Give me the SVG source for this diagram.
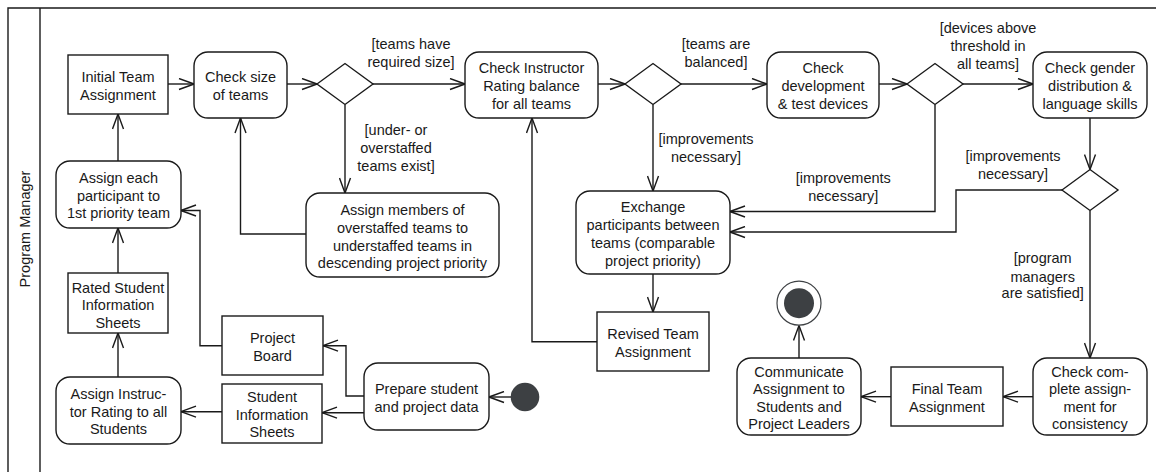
<svg xmlns="http://www.w3.org/2000/svg" width="1156" height="473" viewBox="0 0 1156 473">
  <style>
    .frame { fill: none; stroke: #1a1a1a; stroke-width: 1.4; }
    .act { fill: #ffffff; stroke: #1a1a1a; stroke-width: 1.4; }
    .obj { fill: #ffffff; stroke: #1a1a1a; stroke-width: 1.4; }
    .dec { fill: #ffffff; stroke: #1a1a1a; stroke-width: 1.4; }
    .edge { fill: none; stroke: #1a1a1a; stroke-width: 1.4; marker-end: url(#open); }
    text { font-family: "Liberation Sans", Arial, Helvetica, sans-serif; font-size: 14.5px; fill: #1a1a1a; text-anchor: middle; }
    .dot { fill: #3d4043; }
  </style>
  <defs>
    <marker id="open" markerUnits="userSpaceOnUse" markerWidth="17" markerHeight="13" viewBox="0 0 17 13" refX="16" refY="6.5" orient="auto">
      <path d="M1,1 L16,6.5 L1,12" fill="none" stroke="#1a1a1a" stroke-width="1.4"/>
    </marker>
  </defs>

  <!-- swimlane -->
  <g id="lane">
    <path class="frame" d="M8,472 V8 H1156 M40,8 V472"/>
    <text transform="translate(30,229) rotate(-90)">Program Manager</text>
  </g>

  <!-- connectors -->
  <g id="connectors">
    <path class="edge" d="M168,84 H194"/>
    <path class="edge" d="M287,84 H317"/>
    <path class="edge" d="M373,84 H465"/>
    <path class="edge" d="M345,104.5 V193"/>
    <path class="edge" d="M306,234 H240.5 V118"/>
    <path class="edge" d="M598,84 H625"/>
    <path class="edge" d="M681,84 H767"/>
    <path class="edge" d="M653,104.5 V191"/>
    <path class="edge" d="M879,84 H907"/>
    <path class="edge" d="M963,84 H1033"/>
    <path class="edge" d="M935,104.5 V211.5 H730"/>
    <path class="edge" d="M1090,118 V169.5"/>
    <path class="edge" d="M1062,190 H956 V232 H730"/>
    <path class="edge" d="M1090,210.5 V358"/>
    <path class="edge" d="M653,274 V312"/>
    <path class="edge" d="M597,341.7 H532 V118"/>
    <path class="edge" d="M1033,396.7 H1003"/>
    <path class="edge" d="M891,396.7 H861"/>
    <path class="edge" d="M799,358 V325.5"/>
    <path class="edge" d="M511,397 H489"/>
    <path class="edge" d="M364,396 H346 V345.7 H323"/>
    <path class="edge" d="M364,412.7 H322"/>
    <path class="edge" d="M222,411.7 H181"/>
    <path class="edge" d="M118,377 V333"/>
    <path class="edge" d="M118,273 V228"/>
    <path class="edge" d="M118,161 V114"/>
    <path class="edge" d="M222,345.7 H200 V210.5 H181"/>
    <!-- guard labels -->
    <text x="411" y="49">[teams have</text>
    <text x="411" y="67">required size]</text>
    <text x="396" y="135">[under- or</text>
    <text x="396" y="153">overstaffed</text>
    <text x="396" y="170.5">teams exist]</text>
    <text x="716" y="49">[teams are</text>
    <text x="716" y="67">balanced]</text>
    <text x="706" y="143.7">[improvements</text>
    <text x="706" y="161.7">necessary]</text>
    <text x="988" y="33.3">[devices above</text>
    <text x="988" y="51">threshold in</text>
    <text x="988" y="69">all teams]</text>
    <text x="843.3" y="183.3">[improvements</text>
    <text x="843.3" y="200.5">necessary]</text>
    <text x="1013" y="161">[improvements</text>
    <text x="1013" y="179.3">necessary]</text>
    <text x="1042.7" y="263.3">[program</text>
    <text x="1042.7" y="281.7">managers</text>
    <text x="1042.7" y="298.3">are satisfied]</text>
  </g>

  <!-- nodes -->
  <g id="initial-team-assignment">
    <rect class="obj" x="68" y="55" width="100" height="59"/>
    <text x="118" y="82">Initial Team</text>
    <text x="118" y="100">Assignment</text>
  </g>
  <g id="check-size">
    <rect class="act" x="194" y="52" width="93" height="66" rx="14"/>
    <text x="240.5" y="82">Check size</text>
    <text x="240.5" y="100">of teams</text>
  </g>
  <g id="decision-size">
    <polygon class="dec" points="317,84 345,63.5 373,84 345,104.5"/>
  </g>
  <g id="check-rating">
    <rect class="act" x="465" y="52" width="133" height="66" rx="14"/>
    <text x="531.5" y="73">Check Instructor</text>
    <text x="531.5" y="91">Rating balance</text>
    <text x="531.5" y="109">for all teams</text>
  </g>
  <g id="decision-rating">
    <polygon class="dec" points="625,84 653,63.5 681,84 653,104.5"/>
  </g>
  <g id="check-devices">
    <rect class="act" x="767" y="52" width="112" height="66" rx="14"/>
    <text x="823" y="73">Check</text>
    <text x="823" y="91">development</text>
    <text x="823" y="109">&amp; test devices</text>
  </g>
  <g id="decision-devices">
    <polygon class="dec" points="907,84 935,63.5 963,84 935,104.5"/>
  </g>
  <g id="check-gender">
    <rect class="act" x="1033" y="52" width="114" height="66" rx="14"/>
    <text x="1090" y="73">Check gender</text>
    <text x="1090" y="91">distribution &amp;</text>
    <text x="1090" y="109">language skills</text>
  </g>
  <g id="decision-gender">
    <polygon class="dec" points="1062,190 1090,169.5 1118,190 1090,210.5"/>
  </g>
  <g id="assign-members">
    <rect class="act" x="306" y="193" width="193" height="84" rx="14"/>
    <text x="402.5" y="215">Assign members of</text>
    <text x="402.5" y="233">overstaffed teams to</text>
    <text x="402.5" y="250.5">understaffed teams in</text>
    <text x="402.5" y="268">descending project priority</text>
  </g>
  <g id="exchange-participants">
    <rect class="act" x="576" y="191" width="154" height="83" rx="14"/>
    <text x="653" y="211.7">Exchange</text>
    <text x="653" y="230">participants between</text>
    <text x="653" y="248">teams (comparable</text>
    <text x="653" y="266">project priority)</text>
  </g>
  <g id="revised-team-assignment">
    <rect class="obj" x="597" y="312" width="112" height="59"/>
    <text x="653" y="339">Revised Team</text>
    <text x="653" y="357">Assignment</text>
  </g>
  <g id="check-complete">
    <rect class="act" x="1033" y="358" width="114" height="77" rx="14"/>
    <text x="1090" y="376.7">Check com-</text>
    <text x="1090" y="394.3">plete assign-</text>
    <text x="1090" y="411.7">ment for</text>
    <text x="1090" y="429">consistency</text>
  </g>
  <g id="final-team-assignment">
    <rect class="obj" x="891" y="367" width="112" height="59"/>
    <text x="947" y="394.3">Final Team</text>
    <text x="947" y="411.7">Assignment</text>
  </g>
  <g id="communicate">
    <rect class="act" x="737" y="358" width="124" height="77" rx="14"/>
    <text x="799" y="376.7">Communicate</text>
    <text x="799" y="394.3">Assignment to</text>
    <text x="799" y="411.7">Students and</text>
    <text x="799" y="429">Project Leaders</text>
  </g>
  <g id="final-node">
    <circle cx="799" cy="303.2" r="22" fill="#ffffff" stroke="#3d4043" stroke-width="1.2"/>
    <circle class="dot" cx="799" cy="303.2" r="15"/>
  </g>
  <g id="prepare-data">
    <rect class="act" x="364" y="363" width="125" height="67" rx="14"/>
    <text x="426.5" y="394.3">Prepare student</text>
    <text x="426.5" y="411.7">and project data</text>
  </g>
  <g id="initial-node">
    <circle class="dot" cx="525" cy="397" r="14.3"/>
  </g>
  <g id="project-board">
    <rect class="obj" x="222" y="316" width="101" height="59"/>
    <text x="272.5" y="343.3">Project</text>
    <text x="272.5" y="360.7">Board</text>
  </g>
  <g id="student-information-sheets">
    <rect class="obj" x="222" y="384" width="100" height="59"/>
    <text x="272" y="401.7">Student</text>
    <text x="272" y="420">Information</text>
    <text x="272" y="437.3">Sheets</text>
  </g>
  <g id="assign-rating">
    <rect class="act" x="56" y="377" width="125" height="67" rx="14"/>
    <text x="118.5" y="399">Assign Instruc-</text>
    <text x="118.5" y="416.7">tor Rating to all</text>
    <text x="118.5" y="434.3">Students</text>
  </g>
  <g id="rated-student-information-sheets">
    <rect class="obj" x="68" y="273" width="100" height="60"/>
    <text x="118" y="292.5">Rated Student</text>
    <text x="118" y="310.3">Information</text>
    <text x="118" y="328">Sheets</text>
  </g>
  <g id="assign-priority-team">
    <rect class="act" x="56" y="161" width="125" height="67" rx="14"/>
    <text x="118.5" y="183.3">Assign each</text>
    <text x="118.5" y="201">participant to</text>
    <text x="118.5" y="218.3">1st priority team</text>
  </g>
</svg>
